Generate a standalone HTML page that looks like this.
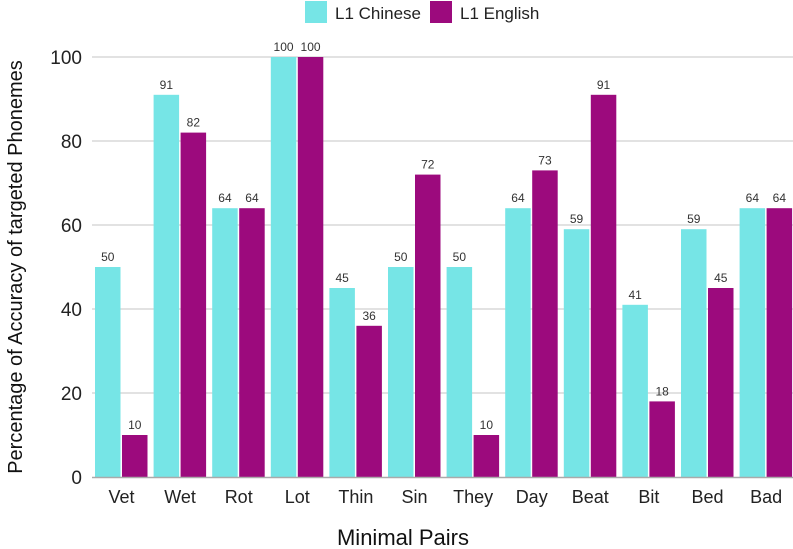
<!DOCTYPE html>
<html><head><style>body{margin:0;background:#fff}svg{display:block}</style></head><body>
<svg width="793" height="549" xmlns="http://www.w3.org/2000/svg" font-family="Liberation Sans, sans-serif">
<g stroke="#d9d9d9" stroke-width="1.5">
<line x1="92" x2="793" y1="57" y2="57"/><line x1="92" x2="793" y1="141" y2="141"/>
<line x1="92" x2="793" y1="225" y2="225"/><line x1="92" x2="793" y1="309" y2="309"/>
<line x1="92" x2="793" y1="393" y2="393"/>
</g>
<g font-size="19" fill="#222" text-anchor="end">
<text x="82" y="64">100</text><text x="82" y="148">80</text><text x="82" y="232">60</text>
<text x="82" y="316">40</text><text x="82" y="400">20</text><text x="82" y="484">0</text>
</g>
<g fill="#76E5E6">
<rect x="95" y="267" width="25.5" height="210"/>
<rect x="153.6" y="94.8" width="25.5" height="382.2"/>
<rect x="212.2" y="208.2" width="25.5" height="268.8"/>
<rect x="270.8" y="57" width="25.5" height="420"/>
<rect x="329.4" y="288" width="25.5" height="189"/>
<rect x="388" y="267" width="25.5" height="210"/>
<rect x="446.6" y="267" width="25.5" height="210"/>
<rect x="505.2" y="208.2" width="25.5" height="268.8"/>
<rect x="563.8" y="229.2" width="25.5" height="247.8"/>
<rect x="622.4" y="304.8" width="25.5" height="172.2"/>
<rect x="681" y="229.2" width="25.5" height="247.8"/>
<rect x="739.6" y="208.2" width="25.5" height="268.8"/>
</g>
<g fill="#9C0A7D">
<rect x="122" y="435" width="25.5" height="42"/>
<rect x="180.6" y="132.6" width="25.5" height="344.4"/>
<rect x="239.2" y="208.2" width="25.5" height="268.8"/>
<rect x="297.8" y="57" width="25.5" height="420"/>
<rect x="356.4" y="325.8" width="25.5" height="151.2"/>
<rect x="415" y="174.6" width="25.5" height="302.4"/>
<rect x="473.6" y="435" width="25.5" height="42"/>
<rect x="532.2" y="170.4" width="25.5" height="306.6"/>
<rect x="590.8" y="94.8" width="25.5" height="382.2"/>
<rect x="649.4" y="401.4" width="25.5" height="75.6"/>
<rect x="708" y="288" width="25.5" height="189"/>
<rect x="766.6" y="208.2" width="25.5" height="268.8"/>
</g>
<g font-size="12" fill="#333" text-anchor="middle">
<text x="107.75" y="261">50</text><text x="134.75" y="429">10</text>
<text x="166.35" y="88.8">91</text><text x="193.35" y="126.6">82</text>
<text x="224.95" y="202.2">64</text><text x="251.95" y="202.2">64</text>
<text x="283.55" y="51">100</text><text x="310.55" y="51">100</text>
<text x="342.15" y="282">45</text><text x="369.15" y="319.8">36</text>
<text x="400.75" y="261">50</text><text x="427.75" y="168.6">72</text>
<text x="459.35" y="261">50</text><text x="486.35" y="429">10</text>
<text x="517.95" y="202.2">64</text><text x="544.95" y="164.4">73</text>
<text x="576.55" y="223.2">59</text><text x="603.55" y="88.8">91</text>
<text x="635.15" y="298.8">41</text><text x="662.15" y="395.4">18</text>
<text x="693.75" y="223.2">59</text><text x="720.75" y="282">45</text>
<text x="752.35" y="202.2">64</text><text x="779.35" y="202.2">64</text>
</g>
<g font-size="18" fill="#222" text-anchor="middle">
<text x="121.5" y="503">Vet</text><text x="180.1" y="503">Wet</text><text x="238.7" y="503">Rot</text>
<text x="297.3" y="503">Lot</text><text x="355.9" y="503">Thin</text><text x="414.5" y="503">Sin</text>
<text x="473.1" y="503">They</text><text x="531.7" y="503">Day</text><text x="590.3" y="503">Beat</text>
<text x="648.9" y="503">Bit</text><text x="707.5" y="503">Bed</text><text x="766.1" y="503">Bad</text>
</g>
<line x1="92" x2="793" y1="477.5" y2="477.5" stroke="#aaa" stroke-width="1.5"/>
<text transform="translate(22,267) rotate(-90)" text-anchor="middle" font-size="20" fill="#111">Percentage of Accuracy of targeted Phonemes</text>
<text x="403" y="545" text-anchor="middle" font-size="22" fill="#111">Minimal Pairs</text>
<rect x="305" y="1" width="22" height="22" fill="#76E5E6"/>
<text x="335" y="19" font-size="17" fill="#222">L1 Chinese</text>
<rect x="430" y="1" width="22" height="22" fill="#9C0A7D"/>
<text x="460" y="19" font-size="17" fill="#222">L1 English</text>
</svg>
</body></html>
